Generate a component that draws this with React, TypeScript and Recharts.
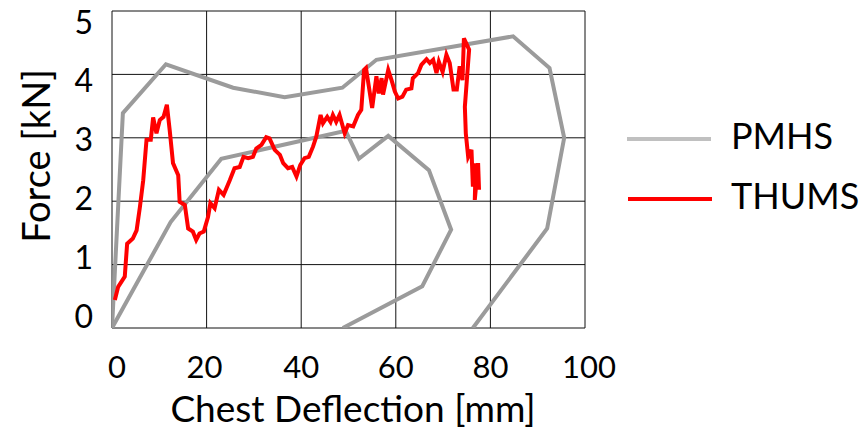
import React from "react";
import { LineChart, Line, XAxis, YAxis, CartesianGrid } from "recharts";

const FONT = "Lato, 'Open Sans', sans-serif";

const xTicks = [0, 20, 40, 60, 80, 100];
const yTicks = [0, 1, 2, 3, 4, 5];

// PMHS corridor, outer bound [deflection mm, force kN]
const pmhsOuter: [number, number][] = [
  [0, 0], [2.3, 3.39], [11.4, 4.16], [25.6, 3.79], [36.5, 3.64], [48.7, 3.79],
  [55.9, 4.23], [84.8, 4.6], [92.5, 4.1], [95.6, 3.0], [92.0, 1.57], [76.3, 0],
];

// PMHS corridor, inner bound
const pmhsInner: [number, number][] = [
  [0, 0], [12.4, 1.67], [23.1, 2.67], [49.4, 3.11], [52.2, 2.67], [58.4, 3.03],
  [67.0, 2.49], [71.7, 1.55], [65.6, 0.66], [48.8, 0],
];

// THUMS simulation response
const thums: [number, number][] = [
  [0.6, 0.44], [1.3, 0.65], [2.7, 0.81], [3.2, 1.33], [4.4, 1.41], [5.2, 1.54],
  [5.9, 1.91], [6.6, 2.33], [7.3, 2.97], [8.2, 2.97], [8.7, 3.32], [9.4, 3.07],
  [10.1, 3.28], [10.9, 3.33], [11.6, 3.52], [12.2, 3.12], [12.9, 2.6], [14.0, 2.41],
  [14.3, 1.99], [15.4, 1.94], [16.1, 1.57], [17.1, 1.52], [17.8, 1.39], [18.5, 1.49],
  [19.4, 1.52], [20.3, 1.75], [20.8, 1.97], [21.7, 1.89], [22.6, 2.18], [23.6, 2.1],
  [24.9, 2.33], [25.9, 2.52], [27.0, 2.54], [27.8, 2.7], [28.8, 2.68], [29.8, 2.7],
  [30.5, 2.83], [31.6, 2.89], [32.6, 3.01], [33.3, 2.99], [34.4, 2.81], [35.5, 2.73],
  [36.2, 2.6], [37.2, 2.52], [38.1, 2.54], [39.0, 2.39], [39.8, 2.57], [40.7, 2.68],
  [41.6, 2.7], [42.5, 2.86], [43.2, 3.02], [44.1, 3.36], [44.6, 3.23], [45.5, 3.33],
  [46.2, 3.25], [46.7, 3.36], [47.4, 3.25], [48.1, 3.36], [49.2, 3.07], [49.9, 3.2],
  [51.0, 3.18], [52.0, 3.36], [52.7, 3.44], [53.3, 4.07], [53.7, 4.1], [55.0, 3.47],
  [55.9, 3.97], [56.4, 3.7], [57.0, 3.94], [57.3, 3.68], [58.4, 4.07], [59.1, 3.91],
  [59.8, 3.73], [60.5, 3.62], [61.4, 3.65], [62.2, 3.76], [63.3, 3.78], [63.6, 3.94],
  [64.7, 4.02], [65.4, 4.15], [66.5, 4.24], [67.2, 4.18], [67.9, 4.23], [68.6, 4.02],
  [69.1, 4.2], [69.9, 4.04], [70.7, 4.31], [71.4, 4.18], [72.2, 3.76], [72.9, 3.76],
  [73.5, 4.13], [74.1, 3.91], [74.4, 4.57], [74.9, 4.49], [75.5, 4.39], [74.6, 3.49],
  [74.8, 3.07], [75.3, 2.7], [76.0, 2.81], [76.3, 2.23], [76.9, 2.6], [76.7, 2.02],
  [77.4, 2.6], [77.6, 2.18],
];

const toPoints = (pts: [number, number][]) => pts.map(([x, y]) => ({ x, y }));

const XTick = ({ x, payload }: any) => {
  const v = payload.value;
  const shift = v === 0 ? 5 : v === 100 ? 4 : v === 20 ? -2 : 0;
  return (
    <text x={x + shift} y={378} textAnchor="middle" fontSize={31} fontFamily={FONT} fill="#000">
      {v}
    </text>
  );
};

const YTick = ({ y, payload }: any) => {
  const v = payload.value;
  return (
    <text x={93} y={y + (v - 2.5) * 4.6 + 11} textAnchor="end" fontSize={32} fontFamily={FONT} fill="#000">
      {v}
    </text>
  );
};

export default function App() {
  return (
    <div style={{ position: "absolute", left: 0, top: 0, width: 862, height: 429, background: "#fff" }}>
      <LineChart
        width={862}
        height={429}
        margin={{ top: 11, right: 277, bottom: 21, left: 0 }}
      >
        <CartesianGrid stroke="#111" strokeWidth={1} />
        <XAxis
          type="number"
          dataKey="x"
          domain={[0, 100]}
          ticks={xTicks}
          allowDataOverflow
          axisLine={false}
          tickLine={false}
          height={80}
          tick={<XTick />}
        />
        <YAxis
          type="number"
          dataKey="y"
          domain={[0, 5]}
          ticks={yTicks}
          allowDataOverflow
          axisLine={false}
          tickLine={false}
          width={112}
          tick={<YTick />}
        />
        <Line
          data={toPoints(pmhsOuter)}
          dataKey="y"
          name="PMHS"
          type="linear"
          stroke="#9b9b9b"
          strokeWidth={4}
          dot={false}
          isAnimationActive={false}
        />
        <Line
          data={toPoints(pmhsInner)}
          dataKey="y"
          name="PMHS inner"
          type="linear"
          stroke="#9b9b9b"
          strokeWidth={4}
          dot={false}
          isAnimationActive={false}
        />
        <Line
          data={toPoints(thums)}
          dataKey="y"
          name="THUMS"
          type="linear"
          stroke="#ff0000"
          strokeWidth={4}
          dot={false}
          isAnimationActive={false}
        />
        {/* legend */}
        <g>
          <line x1={627} y1={139} x2={711} y2={139} stroke="#c0c0c0" strokeWidth={4} />
          <text x={731} y={149} fontSize={36} fontFamily={FONT} fill="#000">PMHS</text>
          <line x1={628} y1={199} x2={712} y2={199} stroke="#ff0000" strokeWidth={4} />
          <text x={731} y={209} fontSize={36} fontFamily={FONT} fill="#000">THUMS</text>
        </g>
        <text x={353} y={422} textAnchor="middle" fontSize={37} fontFamily={FONT} fill="#000">
          Chest Deflection [mm]
        </text>
        <text
          x={35}
          y={156}
          transform="rotate(-90, 35, 156)"
          textAnchor="middle"
          dominantBaseline="central"
          fontSize={38}
          fontFamily={FONT}
          fill="#000"
        >
          Force [kN]
        </text>
      </LineChart>
    </div>
  );
}
